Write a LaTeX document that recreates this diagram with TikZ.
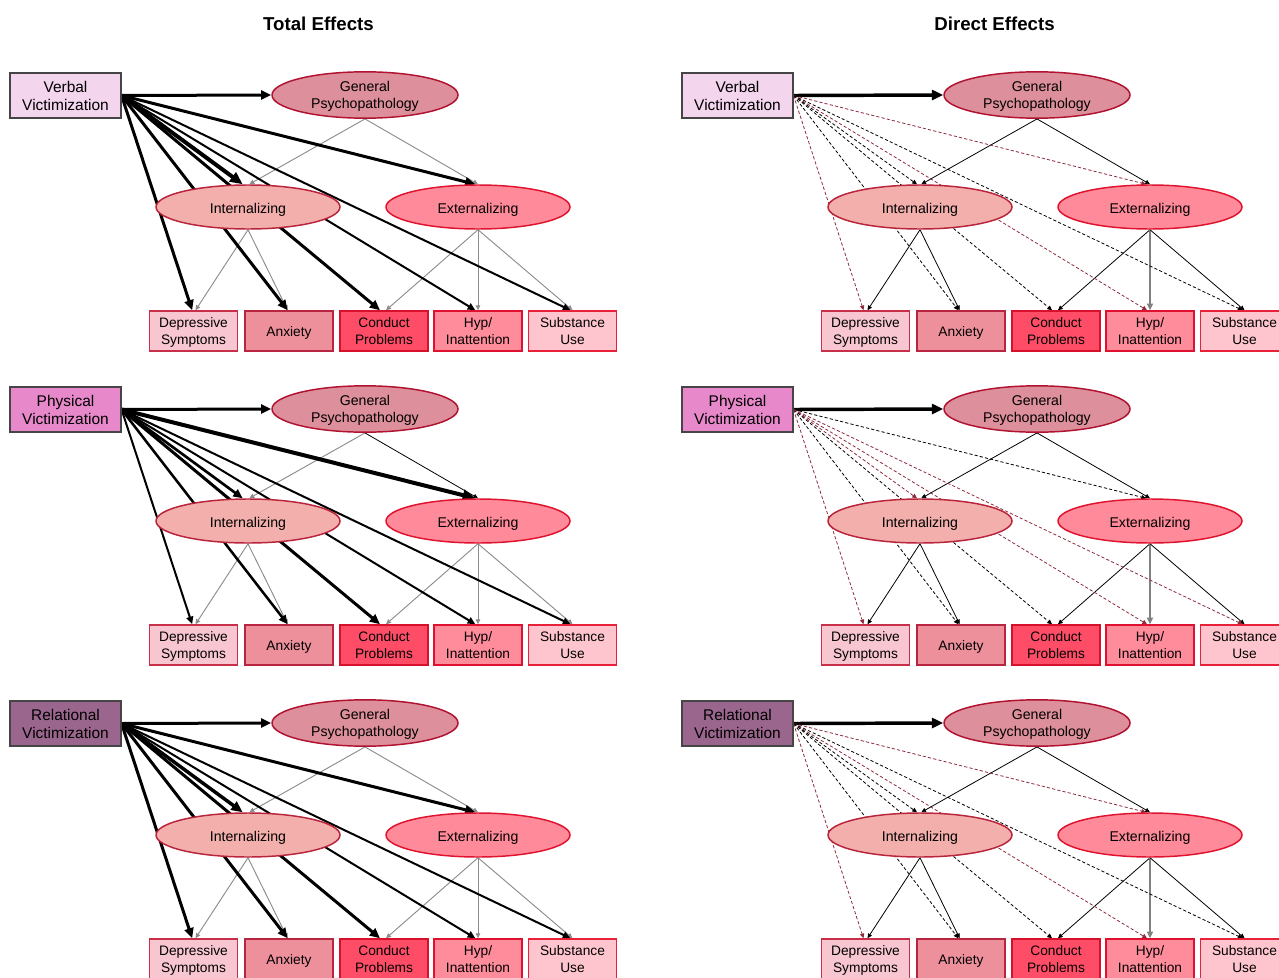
\documentclass[tikz,border=0pt]{standalone}
\usepackage{fontspec}
\setmainfont{Liberation Sans}
\usetikzlibrary{shapes.geometric,arrows.meta}
\pgfdeclarelayer{background}
\pgfsetlayers{background,main}

\definecolor{srcborder}{HTML}{454545}
\definecolor{verbfill}{HTML}{F3D5EE}
\definecolor{physfill}{HTML}{E788CB}
\definecolor{relfill}{HTML}{9B668E}
\definecolor{gpfill}{HTML}{DD8F9B}
\definecolor{gpborder}{HTML}{B0122F}
\definecolor{intfill}{HTML}{F2AFAB}
\definecolor{intborder}{HTML}{B8243C}
\definecolor{extfill}{HTML}{FF8A99}
\definecolor{extborder}{HTML}{E0132F}
\definecolor{depfill}{HTML}{F7C6D0}
\definecolor{depborder}{HTML}{C8304A}
\definecolor{anxfill}{HTML}{EE909C}
\definecolor{anxborder}{HTML}{B72540}
\definecolor{cndfill}{HTML}{FF4D67}
\definecolor{cndborder}{HTML}{D8102C}
\definecolor{hypfill}{HTML}{FF8C9B}
\definecolor{hypborder}{HTML}{E01030}
\definecolor{subfill}{HTML}{FFC5CE}
\definecolor{subborder}{HTML}{E8203A}
\definecolor{structgray}{HTML}{8C8C8C}
\definecolor{dashred}{HTML}{8E2B3D}

\newcommand\pstr{\rule[-0.212em]{0pt}{1.117em}}
\newcommand\estr{\rule[-0.212em]{0pt}{1.35em}}
\newcommand\astr{\rule[-0.212em]{0pt}{1.25em}}

\tikzset{
  srcbox/.style={rectangle, draw=srcborder, line width=0.8pt, minimum width=83.25pt, minimum height=33.75pt, inner sep=0pt, align=center, font=\fontsize{11.6}{13.5}\selectfont},
  gpell/.style={ellipse, draw=gpborder, fill=gpfill, line width=1.1pt, minimum width=139.5pt, minimum height=34.5pt, inner sep=0pt, align=center, font=\fontsize{10.6}{12.75}\selectfont},
  latell/.style={ellipse, line width=1.1pt, minimum width=138pt, minimum height=33pt, inner sep=0pt, align=center, font=\fontsize{10.6}{12.75}\selectfont},
  indbox/.style={rectangle, line width=1.1pt, minimum width=66.25pt, minimum height=30pt, inner sep=0pt, align=center, font=\fontsize{10.3}{12.75}\selectfont},
  arr/.style={-{Triangle[length=2pt 2.5,width=2pt 2.1]}},
  tot/.style={arr, draw=black, line width=#1},
  gstruct/.style={arr, draw=structgray, line width=0.7pt},
  bstruct/.style={arr, draw=black, line width=0.6pt},
  hstruct/.style={arr, draw=gray, line width=1.2pt},
  dsh/.style={arr, draw=#1, line width=0.6pt, dash pattern=on 2.4pt off 1.6pt},
  titletext/.style={font=\fontsize{14}{16}\selectfont\bfseries},
}

\newcommand\mkpanel[5]{%
  \begin{scope}[shift={(#2,#3)}]
    \node[srcbox, fill=#5] (#1src) at (65.5,95.5) {#4\\Victimization};
    \node[gpell] (#1gp) at (365,95) {\pstr General\\Psychopathology\pstr};
    \node[latell, draw=intborder, fill=intfill] (#1int) at (248,207) {\estr Internalizing};
    \node[latell, draw=extborder, fill=extfill] (#1ext) at (478,207) {\estr Externalizing};
    \node[indbox, draw=depborder, fill=depfill] (#1dep) at (193.5,331) {\pstr Depressive\\Symptoms\pstr};
    \node[indbox, draw=anxborder, fill=anxfill] (#1anx) at (289,331) {\astr Anxiety};
    \node[indbox, draw=cndborder, fill=cndfill] (#1cnd) at (384,331) {\pstr Conduct\\Problems\pstr};
    \node[indbox, draw=hypborder, fill=hypfill] (#1hyp) at (478,331) {\pstr Hyp/\\Inattention\pstr};
    \node[indbox, draw=subborder, fill=subfill] (#1sub) at (572.5,331) {\pstr Substance\\Use\pstr};
  \end{scope}}

\newcommand\structarrows[4]{%
  \begin{pgfonlayer}{background}
    \draw[#2] (#1gp.south) -- ([xshift=1pt]#1int.north);
    \draw[#3] (#1gp.south) -- (#1ext.north);
    \draw[#2] (#1int.south) -- ([xshift=1.5pt]#1dep.north);
    \draw[#2] (#1int.south) -- ([xshift=-1pt]#1anx.north);
    \draw[#2] (#1ext.south) -- ([xshift=1.5pt]#1cnd.north);
    \draw[#4] (#1ext.south) -- (#1hyp.north);
    \draw[#2] (#1ext.south) -- (#1sub.north);
  \end{pgfonlayer}}

\newcommand\totarrows[9]{%
  \begin{pgfonlayer}{background}
    \draw[tot=#2] (#1src.east) -- (#1gp.west);
    \draw[tot=#3] (#1src.east) -- ([xshift=-4pt]#1int.north);
    \draw[tot=#4] (#1src.east) -- ([xshift=-2pt]#1ext.north);
    \draw[tot=#5] (#1src.east) -- ([xshift=-1pt]#1dep.north);
    \draw[tot=#6] (#1src.east) -- ([xshift=-1pt]#1anx.north);
    \draw[tot=#7] (#1src.east) -- ([xshift=-3pt]#1cnd.north);
    \draw[tot=#8] (#1src.east) -- ([xshift=-2pt]#1hyp.north);
    \draw[tot=#9] (#1src.east) -- ([xshift=-1.5pt]#1sub.north);
  \end{pgfonlayer}}

\newcommand\dirarrows[8]{%
  \begin{pgfonlayer}{background}
    \draw[tot=2.6pt] (#1src.east) -- (#1gp.west);
    \draw[dsh=#2] (#1src.east) -- ([xshift=-2.25pt]#1int.north);
    \draw[dsh=#3] (#1src.east) -- ([xshift=-3pt]#1ext.north);
    \draw[dsh=#4] (#1src.east) -- ([xshift=-1.5pt]#1dep.north);
    \draw[dsh=#5] (#1src.east) -- ([xshift=-2pt]#1anx.north);
    \draw[dsh=#6] (#1src.east) -- ([xshift=-3pt]#1cnd.north);
    \draw[dsh=#7] (#1src.east) -- ([xshift=-2.25pt]#1hyp.north);
    \draw[dsh=#8] (#1src.east) -- ([xshift=-1.5pt]#1sub.north);
  \end{pgfonlayer}}

\begin{document}
\begin{tikzpicture}[x=0.75pt, y=-0.75pt]
  \useasboundingbox (0,0) rectangle (1279,978);
  \clip (0,0) rectangle (1279,978);

  \node[titletext] (ttot) at (318.5,24) {Total Effects};
  \node[titletext] (tdir) at (994.5,24) {Direct Effects};

  % Total effects panels
  \mkpanel{tv}{0}{0}{Verbal}{verbfill}
  \mkpanel{tp}{0}{314}{Physical}{physfill}
  \mkpanel{tr}{0}{628}{Relational}{relfill}
  % Direct effects panels
  \mkpanel{dv}{672}{0}{Verbal}{verbfill}
  \mkpanel{dp}{672}{314}{Physical}{physfill}
  \mkpanel{dr}{672}{628}{Relational}{relfill}

  \structarrows{tv}{gstruct}{gstruct}{gstruct}
  \structarrows{tp}{gstruct}{bstruct}{gstruct}
  \structarrows{tr}{gstruct}{gstruct}{gstruct}
  \totarrows{tv}{2.25pt}{3pt}{2.25pt}{2.25pt}{2.25pt}{2.25pt}{1.5pt}{1.5pt}
  \totarrows{tp}{2.25pt}{2pt}{3pt}{1.5pt}{1.9pt}{2.25pt}{1.5pt}{1.5pt}
  \totarrows{tr}{2.25pt}{2.6pt}{2.25pt}{2.25pt}{2.25pt}{2.25pt}{1.5pt}{1.5pt}

  \structarrows{dv}{bstruct}{bstruct}{hstruct}
  \structarrows{dp}{bstruct}{bstruct}{hstruct}
  \structarrows{dr}{bstruct}{bstruct}{hstruct}
  \dirarrows{dv}{black}{dashred}{dashred}{black}{black}{dashred}{black}
  \dirarrows{dp}{dashred}{black}{dashred}{black}{black}{dashred}{dashred}
  \dirarrows{dr}{black}{dashred}{dashred}{black}{black}{dashred}{black}
\end{tikzpicture}
\end{document}
